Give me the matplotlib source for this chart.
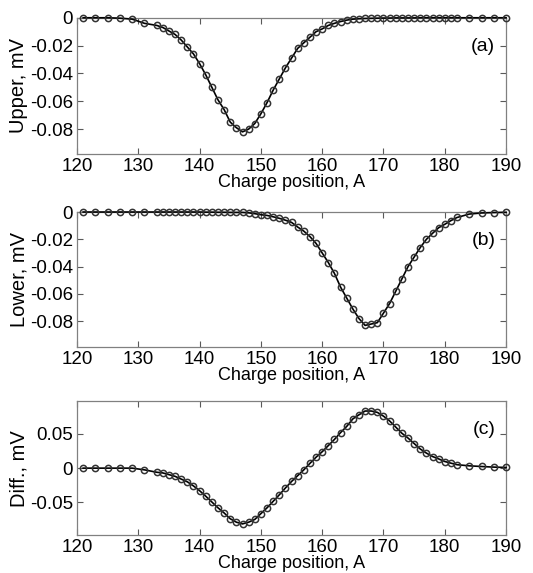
import matplotlib.pyplot as plt
import numpy as np

plt.rcParams['font.family'] = ['Liberation Sans', 'DejaVu Sans']

# charge positions (A)
pos = [121, 123, 125, 127, 129, 131, 133] + list(range(134, 183)) + [184, 186, 188, 190]

upper = [0, 0, 0, -0.0003, -0.001, -0.004, -0.0055, -0.007, -0.0095, -0.012,
         -0.016, -0.021, -0.026, -0.033, -0.041, -0.050, -0.059, -0.066, -0.075,
         -0.079, -0.082, -0.080, -0.076, -0.069, -0.061, -0.052, -0.044, -0.036,
         -0.029, -0.022, -0.018, -0.014, -0.010, -0.008, -0.0055, -0.004, -0.0027,
         -0.0017, -0.001, -0.0007, -0.0005, -0.0004, -0.0003, -0.0002, -0.0002,
         -0.0001, -0.0001, -0.0001, -0.0001, 0, 0, 0, 0, 0, 0, 0, 0, 0, 0, 0]

lower = [0, 0, 0, 0, 0, 0, 0, 0, 0, 0,
         0, 0, 0, 0, -0.0001, -0.0001, -0.0002, -0.0002, -0.0003,
         -0.0003, -0.0003, -0.0006, -0.0012, -0.002, -0.0025, -0.0035, -0.0046, -0.006,
         -0.0076, -0.011, -0.014, -0.018, -0.023, -0.030, -0.037, -0.045, -0.055,
         -0.063, -0.071, -0.078, -0.083, -0.082, -0.081, -0.074, -0.067,
         -0.058, -0.049, -0.040, -0.033, -0.026, -0.020, -0.0156, -0.0115, -0.009,
         -0.0063, -0.004, -0.0015, -0.0007, -0.0004, -0.0002]

diff = [0, 0, 0, 0, 0, -0.0025, -0.006, -0.007, -0.0095, -0.012,
        -0.016, -0.020, -0.026, -0.033, -0.041, -0.0495, -0.058, -0.0655, -0.074,
        -0.079, -0.0815, -0.079, -0.075, -0.0665, -0.058, -0.0485, -0.039, -0.029,
        -0.0195, -0.011, -0.0025, 0.007, 0.016, 0.024, 0.033, 0.042, 0.052,
        0.061, 0.072, 0.078, 0.0835, 0.0835, 0.0815, 0.076, 0.069,
        0.060, 0.051, 0.044, 0.036, 0.028, 0.022, 0.017, 0.0135, 0.0097,
        0.0073, 0.005, 0.0034, 0.0024, 0.0015, 0.001]

panels = [
    (upper, 'Upper, mV', '(a)', [0, -0.02, -0.04, -0.06, -0.08], ['0', '-0.02', '-0.04', '-0.06', '-0.08'], (-0.098, 0)),
    (lower, 'Lower, mV', '(b)', [0, -0.02, -0.04, -0.06, -0.08], ['0', '-0.02', '-0.04', '-0.06', '-0.08'], (-0.099, 0)),
    (diff, 'Diff., mV', '(c)', [-0.05, 0, 0.05], ['-0.05', '0', '0.05'], (-0.098, 0.098)),
]
rects = [[0.1445, 0.731, 0.805, 0.238],
         [0.1445, 0.394, 0.805, 0.236],
         [0.1445, 0.066, 0.805, 0.234]]

fig = plt.figure(figsize=(5.33, 5.73), dpi=100)
for (vals, ylab, tag, yt, ytl, ylim), r in zip(panels, rects):
    ax = fig.add_axes(r)
    ax.plot(pos, vals, '-', color='k', lw=1.2, marker='o', ms=4.5,
            mfc='none', mec='0.2', mew=1.1, clip_on=False, zorder=3)
    ax.set_xlim(120, 190)
    ax.set_ylim(*ylim)
    ax.set_xticks(np.arange(120, 191, 10))
    ax.set_yticks(yt)
    ax.set_yticklabels(ytl)
    ax.tick_params(direction='in', top=True, right=True, labelsize=13.5,
                   length=4, color='0.35', pad=3)
    for s in ax.spines.values():
        s.set_color('0.5')
        s.set_linewidth(0.9)
    ax.set_xlabel('Charge position, A', fontsize=13, labelpad=-1)
    ax.set_ylabel(ylab, fontsize=14.5, labelpad=1)
    ax.text(0.975, 0.79, tag, transform=ax.transAxes, fontsize=14, ha='right', va='center')

fig.savefig('out.png', dpi=100)
